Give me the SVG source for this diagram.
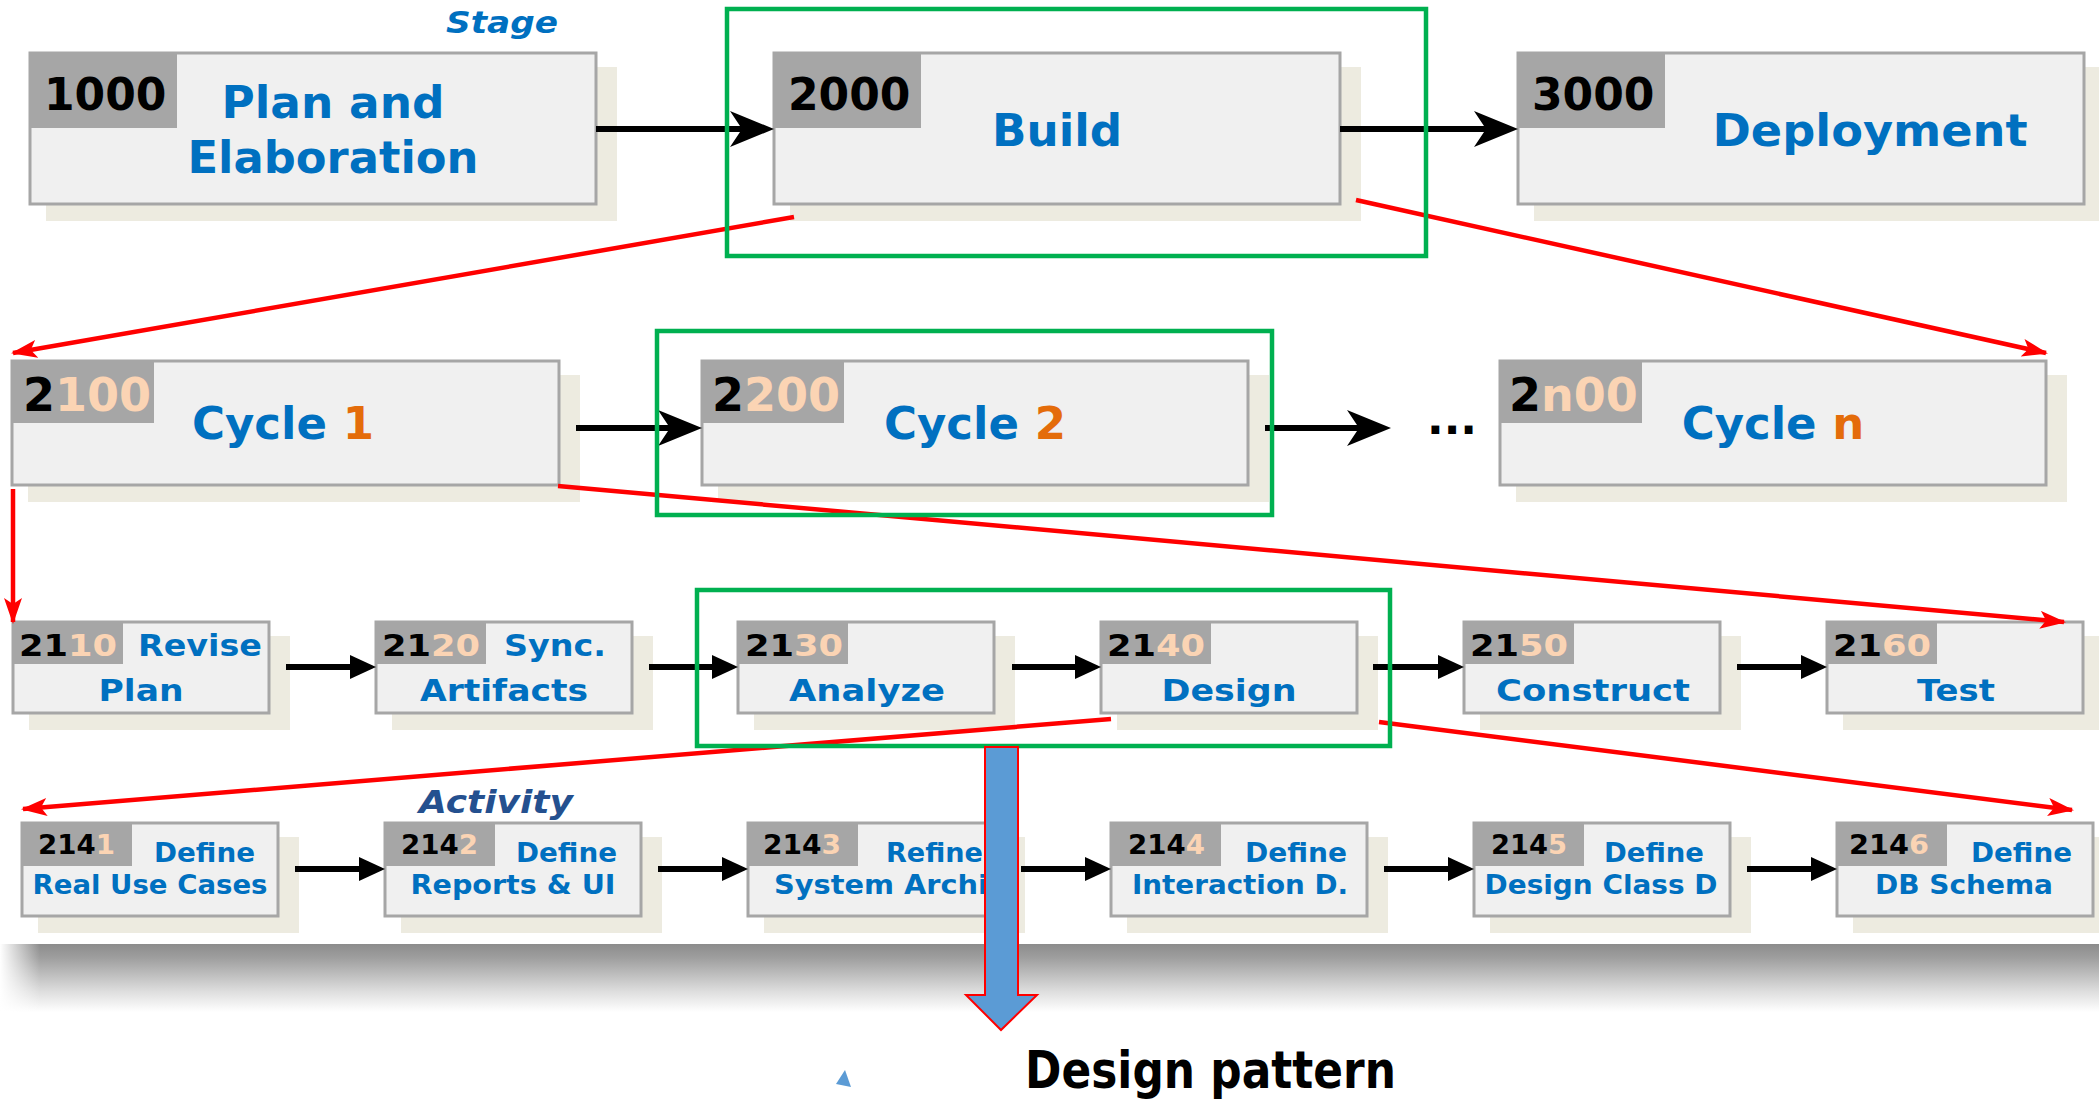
<svg xmlns="http://www.w3.org/2000/svg" width="2099" height="1109" viewBox="0 0 2099 1109">
  <defs>
    <style>
      .sh { fill: #EDEBE0; }
      .bx { fill: #F0F0F0; stroke: #A6A6A6; stroke-width: 3; }
      .tg { fill: #A6A6A6; }
      text { font-family: "DejaVu Sans", "Liberation Sans", sans-serif; font-weight: bold; }
      .k { fill: #000000; }
      .pe { fill: #FBD4B4; }
      .bl { fill: #0070C0; }
      .or { fill: #E46C0A; }
      .f44 { font-size: 44px; }
      .f46 { font-size: 46px; }
      .f45 { font-size: 45px; }
      .f30 { font-size: 30px; }
      .f26 { font-size: 26px; }
      .mid { text-anchor: middle; }
      .flow { fill: none; stroke: #000000; stroke-width: 6; }
      .flow-big { marker-end: url(#headBig); }
      .flow-small { marker-end: url(#headSmall); }
      .drill { fill: none; stroke: #FF0000; stroke-width: 4.5; marker-end: url(#headRed); }
      .focus { fill: none; stroke: #00B050; stroke-width: 4.5; }
    </style>
    <marker id="headBig" markerUnits="userSpaceOnUse" markerWidth="44" markerHeight="36" refX="14" refY="18" orient="auto">
      <path d="M0,0 L44,18 L0,36 L12,18 Z" fill="#000000"/>
    </marker>
    <marker id="headSmall" markerUnits="userSpaceOnUse" markerWidth="26" markerHeight="24" refX="1" refY="12" orient="auto">
      <path d="M0,0 L26,12 L0,24 Z" fill="#000000"/>
    </marker>
    <marker id="headRed" markerUnits="userSpaceOnUse" markerWidth="26" markerHeight="18" refX="24" refY="9" orient="auto">
      <path d="M0,0 L26,9 L0,18 L6,9 Z" fill="#FF0000"/>
    </marker>
    <linearGradient id="bandFade" x1="0" y1="0" x2="0" y2="1">
      <stop offset="0" stop-color="#8C8C8C"/>
      <stop offset="0.2" stop-color="#9E9E9E"/>
      <stop offset="0.45" stop-color="#BEBEBE"/>
      <stop offset="0.7" stop-color="#DEDEDE"/>
      <stop offset="1" stop-color="#FFFFFF"/>
    </linearGradient>
    <linearGradient id="edgeFade" x1="0" y1="0" x2="1" y2="0">
      <stop offset="0" stop-color="#FFFFFF" stop-opacity="1"/>
      <stop offset="1" stop-color="#FFFFFF" stop-opacity="0"/>
    </linearGradient>
  </defs>

  <rect x="0" y="0" width="2099" height="1109" fill="#FFFFFF"/>

  <!-- shaded floor band under the activity row -->
  <g id="floor">
    <rect x="0" y="944" width="2099" height="68" fill="url(#bandFade)"/>
    <rect x="0" y="944" width="40" height="68" fill="url(#edgeFade)"/>
  </g>

  <!-- level captions -->
  <text x="446" y="33" font-size="30" font-style="italic" fill="#0070C0" textLength="112" lengthAdjust="spacingAndGlyphs">Stage</text>
  <text x="419" y="813" font-size="32" font-style="italic" fill="#24508F" textLength="154" lengthAdjust="spacingAndGlyphs">Activity</text>

  <!-- stage row -->
  <g id="n1000">
    <rect class="sh" x="46" y="67" width="571" height="154"/>
    <rect class="bx" x="30" y="53" width="566" height="151"/>
    <rect class="tg" x="30" y="53" width="147" height="75"/>
    <text class="f44 k" x="44" y="110">1000</text>
    <text class="f44 bl mid" x="333" y="118" textLength="223" lengthAdjust="spacingAndGlyphs">Plan and</text>
    <text class="f44 bl mid" x="333" y="173" textLength="291" lengthAdjust="spacingAndGlyphs">Elaboration</text>
  </g>
  <g id="n2000">
    <rect class="sh" x="790" y="67" width="571" height="154"/>
    <rect class="bx" x="774" y="53" width="566" height="151"/>
    <rect class="tg" x="774" y="53" width="147" height="75"/>
    <text class="f44 k" x="788" y="110">2000</text>
    <text class="f44 bl mid" x="1057" y="146" textLength="130" lengthAdjust="spacingAndGlyphs">Build</text>
  </g>
  <g id="n3000">
    <rect class="sh" x="1534" y="67" width="571" height="154"/>
    <rect class="bx" x="1518" y="53" width="566" height="151"/>
    <rect class="tg" x="1518" y="53" width="147" height="75"/>
    <text class="f44 k" x="1532" y="110">3000</text>
    <text class="f44 bl mid" x="1870" y="146" textLength="315" lengthAdjust="spacingAndGlyphs">Deployment</text>
  </g>

  <!-- cycle row -->
  <g id="n2100">
    <rect class="sh" x="28" y="375" width="552" height="127"/>
    <rect class="bx" x="12" y="361" width="547" height="124"/>
    <rect class="tg" x="12" y="361" width="142" height="62"/>
    <text class="f46" x="23" y="411"><tspan class="k">2</tspan><tspan class="pe">100</tspan></text>
    <text class="f45 mid" x="283" y="439"><tspan class="bl">Cycle </tspan><tspan class="or">1</tspan></text>
  </g>
  <g id="n2200">
    <rect class="sh" x="718" y="375" width="551" height="127"/>
    <rect class="bx" x="702" y="361" width="546" height="124"/>
    <rect class="tg" x="702" y="361" width="142" height="62"/>
    <text class="f46" x="712" y="411"><tspan class="k">2</tspan><tspan class="pe">200</tspan></text>
    <text class="f45 mid" x="975" y="439"><tspan class="bl">Cycle </tspan><tspan class="or">2</tspan></text>
  </g>
  <g id="ellipsis">
    <text class="f44 k mid" x="1452" y="434">...</text>
  </g>
  <g id="n2n00">
    <rect class="sh" x="1516" y="375" width="551" height="127"/>
    <rect class="bx" x="1500" y="361" width="546" height="124"/>
    <rect class="tg" x="1500" y="361" width="142" height="62"/>
    <text class="f46" x="1509" y="411"><tspan class="k">2</tspan><tspan class="pe">n00</tspan></text>
    <text class="f45 mid" x="1773" y="439"><tspan class="bl">Cycle </tspan><tspan class="or">n</tspan></text>
  </g>

  <!-- phase row -->
  <g id="n2110">
    <rect class="sh" x="29" y="636" width="261" height="94"/>
    <rect class="bx" x="13" y="622" width="256" height="91"/>
    <rect class="tg" x="13" y="622" width="110" height="42"/>
    <text class="f30" x="19" y="656" textLength="98" lengthAdjust="spacingAndGlyphs"><tspan class="k">21</tspan><tspan class="pe">10</tspan></text>
    <text class="f30 bl" x="138" y="656" textLength="124" lengthAdjust="spacingAndGlyphs">Revise</text>
    <text class="f30 bl mid" x="141" y="701" textLength="85" lengthAdjust="spacingAndGlyphs">Plan</text>
  </g>
  <g id="n2120">
    <rect class="sh" x="392" y="636" width="261" height="94"/>
    <rect class="bx" x="376" y="622" width="256" height="91"/>
    <rect class="tg" x="376" y="622" width="110" height="42"/>
    <text class="f30" x="382" y="656" textLength="98" lengthAdjust="spacingAndGlyphs"><tspan class="k">21</tspan><tspan class="pe">20</tspan></text>
    <text class="f30 bl" x="504" y="656" textLength="102" lengthAdjust="spacingAndGlyphs">Sync.</text>
    <text class="f30 bl mid" x="504" y="701" textLength="168" lengthAdjust="spacingAndGlyphs">Artifacts</text>
  </g>
  <g id="n2130">
    <rect class="sh" x="754" y="636" width="261" height="94"/>
    <rect class="bx" x="738" y="622" width="256" height="91"/>
    <rect class="tg" x="738" y="622" width="110" height="42"/>
    <text class="f30" x="745" y="656" textLength="98" lengthAdjust="spacingAndGlyphs"><tspan class="k">21</tspan><tspan class="pe">30</tspan></text>
    <text class="f30 bl mid" x="867" y="701" textLength="156" lengthAdjust="spacingAndGlyphs">Analyze</text>
  </g>
  <g id="n2140">
    <rect class="sh" x="1117" y="636" width="261" height="94"/>
    <rect class="bx" x="1101" y="622" width="256" height="91"/>
    <rect class="tg" x="1101" y="622" width="110" height="42"/>
    <text class="f30" x="1107" y="656" textLength="98" lengthAdjust="spacingAndGlyphs"><tspan class="k">21</tspan><tspan class="pe">40</tspan></text>
    <text class="f30 bl mid" x="1229" y="701" textLength="135" lengthAdjust="spacingAndGlyphs">Design</text>
  </g>
  <g id="n2150">
    <rect class="sh" x="1480" y="636" width="261" height="94"/>
    <rect class="bx" x="1464" y="622" width="256" height="91"/>
    <rect class="tg" x="1464" y="622" width="110" height="42"/>
    <text class="f30" x="1470" y="656" textLength="98" lengthAdjust="spacingAndGlyphs"><tspan class="k">21</tspan><tspan class="pe">50</tspan></text>
    <text class="f30 bl mid" x="1593" y="701" textLength="194" lengthAdjust="spacingAndGlyphs">Construct</text>
  </g>
  <g id="n2160">
    <rect class="sh" x="1843" y="636" width="261" height="94"/>
    <rect class="bx" x="1827" y="622" width="256" height="91"/>
    <rect class="tg" x="1827" y="622" width="110" height="42"/>
    <text class="f30" x="1833" y="656" textLength="98" lengthAdjust="spacingAndGlyphs"><tspan class="k">21</tspan><tspan class="pe">60</tspan></text>
    <text class="f30 bl mid" x="1956" y="701" textLength="78" lengthAdjust="spacingAndGlyphs">Test</text>
  </g>

  <!-- activity row -->
  <g id="n2141">
    <rect class="sh" x="38" y="837" width="261" height="96"/>
    <rect class="bx" x="22" y="823" width="256" height="93"/>
    <rect class="tg" x="22" y="823" width="110" height="43"/>
    <text class="f26" x="38" y="854" textLength="77" lengthAdjust="spacingAndGlyphs"><tspan class="k">214</tspan><tspan class="pe">1</tspan></text>
    <text class="f26 bl" x="154" y="862" textLength="101" lengthAdjust="spacingAndGlyphs">Define</text>
    <text class="f26 bl mid" x="150" y="894" textLength="235" lengthAdjust="spacingAndGlyphs">Real Use Cases</text>
  </g>
  <g id="n2142">
    <rect class="sh" x="401" y="837" width="261" height="96"/>
    <rect class="bx" x="385" y="823" width="256" height="93"/>
    <rect class="tg" x="385" y="823" width="110" height="43"/>
    <text class="f26" x="401" y="854" textLength="77" lengthAdjust="spacingAndGlyphs"><tspan class="k">214</tspan><tspan class="pe">2</tspan></text>
    <text class="f26 bl" x="516" y="862" textLength="101" lengthAdjust="spacingAndGlyphs">Define</text>
    <text class="f26 bl mid" x="513" y="894" textLength="205" lengthAdjust="spacingAndGlyphs">Reports &amp; UI</text>
  </g>
  <g id="n2143">
    <rect class="sh" x="764" y="837" width="261" height="96"/>
    <rect class="bx" x="748" y="823" width="256" height="93"/>
    <rect class="tg" x="748" y="823" width="110" height="43"/>
    <text class="f26" x="763" y="854" textLength="78" lengthAdjust="spacingAndGlyphs"><tspan class="k">214</tspan><tspan class="pe">3</tspan></text>
    <text class="f26 bl" x="886" y="862" textLength="97" lengthAdjust="spacingAndGlyphs">Refine</text>
    <text class="f26 bl" x="774" y="894" textLength="214" lengthAdjust="spacingAndGlyphs">System Archi</text>
  </g>
  <g id="n2144">
    <rect class="sh" x="1127" y="837" width="261" height="96"/>
    <rect class="bx" x="1111" y="823" width="256" height="93"/>
    <rect class="tg" x="1111" y="823" width="110" height="43"/>
    <text class="f26" x="1128" y="854" textLength="77" lengthAdjust="spacingAndGlyphs"><tspan class="k">214</tspan><tspan class="pe">4</tspan></text>
    <text class="f26 bl" x="1245" y="862" textLength="102" lengthAdjust="spacingAndGlyphs">Define</text>
    <text class="f26 bl mid" x="1240" y="894" textLength="216" lengthAdjust="spacingAndGlyphs">Interaction D.</text>
  </g>
  <g id="n2145">
    <rect class="sh" x="1490" y="837" width="261" height="96"/>
    <rect class="bx" x="1474" y="823" width="256" height="93"/>
    <rect class="tg" x="1474" y="823" width="110" height="43"/>
    <text class="f26" x="1491" y="854" textLength="76" lengthAdjust="spacingAndGlyphs"><tspan class="k">214</tspan><tspan class="pe">5</tspan></text>
    <text class="f26 bl" x="1604" y="862" textLength="100" lengthAdjust="spacingAndGlyphs">Define</text>
    <text class="f26 bl mid" x="1601" y="894" textLength="233" lengthAdjust="spacingAndGlyphs">Design Class D</text>
  </g>
  <g id="n2146">
    <rect class="sh" x="1853" y="837" width="261" height="96"/>
    <rect class="bx" x="1837" y="823" width="256" height="93"/>
    <rect class="tg" x="1837" y="823" width="110" height="43"/>
    <text class="f26" x="1849" y="854" textLength="80" lengthAdjust="spacingAndGlyphs"><tspan class="k">214</tspan><tspan class="pe">6</tspan></text>
    <text class="f26 bl" x="1971" y="862" textLength="101" lengthAdjust="spacingAndGlyphs">Define</text>
    <text class="f26 bl mid" x="1964" y="894" textLength="178" lengthAdjust="spacingAndGlyphs">DB Schema</text>
  </g>

  <!-- connectors -->
  <g id="connectors">
    <path class="flow flow-big" d="M596,129 H744"/>
    <path class="flow flow-big" d="M1340,129 H1488"/>
    <path class="flow flow-big" d="M576,428 H672"/>
    <path class="flow flow-big" d="M1265,428 H1361"/>

    <path class="flow flow-small" d="M286,667 H351"/>
    <path class="flow flow-small" d="M649,667 H713"/>
    <path class="flow flow-small" d="M1012,667 H1076"/>
    <path class="flow flow-small" d="M1373,667 H1439"/>
    <path class="flow flow-small" d="M1737,667 H1802"/>

    <path class="flow flow-small" d="M295,869 H360"/>
    <path class="flow flow-small" d="M658,869 H723"/>
    <path class="flow flow-small" d="M1021,869 H1086"/>
    <path class="flow flow-small" d="M1384,869 H1449"/>
    <path class="flow flow-small" d="M1747,869 H1812"/>

    <path class="drill" d="M794,217 L13,353"/>
    <path class="drill" d="M1356,200 L2046,353"/>
    <path class="drill" d="M13,489 L13,622"/>
    <path class="drill" d="M558,486 L2064,622"/>
    <path class="drill" d="M1111,719 L23,809"/>
    <path class="drill" d="M1379,722 L2072,810"/>
  </g>

  <!-- focus frames -->
  <g id="focus">
    <rect class="focus" x="727" y="9" width="699" height="247"/>
    <rect class="focus" x="657" y="331" width="615" height="184"/>
    <rect class="focus" x="697" y="590" width="693" height="156"/>
  </g>

  <!-- block arrow down to the result -->
  <g id="result">
    <polygon points="985,747 1018,747 1018,995 1037,995 1001,1030 966,995 985,995" fill="#5B9BD5" stroke="#FF0000" stroke-width="2"/>
    <polygon points="845,1070 851,1087 836,1084" fill="#5B9BD5"/>
    <text x="1025" y="1088" font-size="52" fill="#000000" textLength="371" lengthAdjust="spacingAndGlyphs">Design pattern</text>
  </g>
</svg>
